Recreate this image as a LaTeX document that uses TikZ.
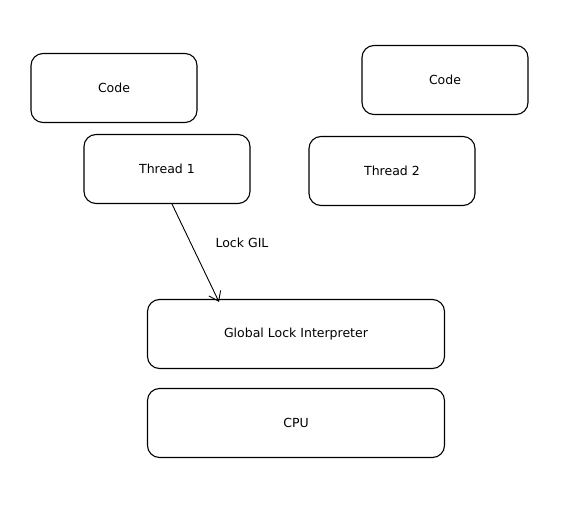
\documentclass[tikz,border=0pt]{standalone}
\usepackage{fontspec}
\setmainfont{DejaVu Sans}
\usetikzlibrary{positioning, arrows.meta}

\begin{document}
\begin{tikzpicture}[x=1pt, y=-1pt,
    box/.style={draw, line width=1.1pt, rounded corners=12pt, minimum width=166pt, minimum height=69pt, font=\fontsize{12.5}{14}\selectfont},
    widebox/.style={box, minimum width=297pt}]
    % Page frame
    \useasboundingbox (0,0) rectangle (566,511);

    % Threads and their code
    \foreach \n/\x/\y/\t in {code1/114/88/Code, thread1/167/169/Thread 1, code2/445/80/Code, thread2/392/171/Thread 2} {
      \node[box] (\n) at (\x,\y) {\t};
    }

    % Interpreter lock and processor
    \node[widebox] (gil) at (296,334) {Global Lock Interpreter};
    \node[widebox] (cpu) at (296,423) {CPU};

    % Thread 1 takes the lock
    \draw[line width=0.9pt, -{Straight Barb[length=9pt, width=13pt]}] ([xshift=5pt]thread1.south) -- ([xshift=-77pt, yshift=-3pt]gil.north);
    \node[font=\fontsize{12.5}{14}\selectfont] (lockgil) at (242,243) {Lock GIL};
  \end{tikzpicture}
\end{document}
